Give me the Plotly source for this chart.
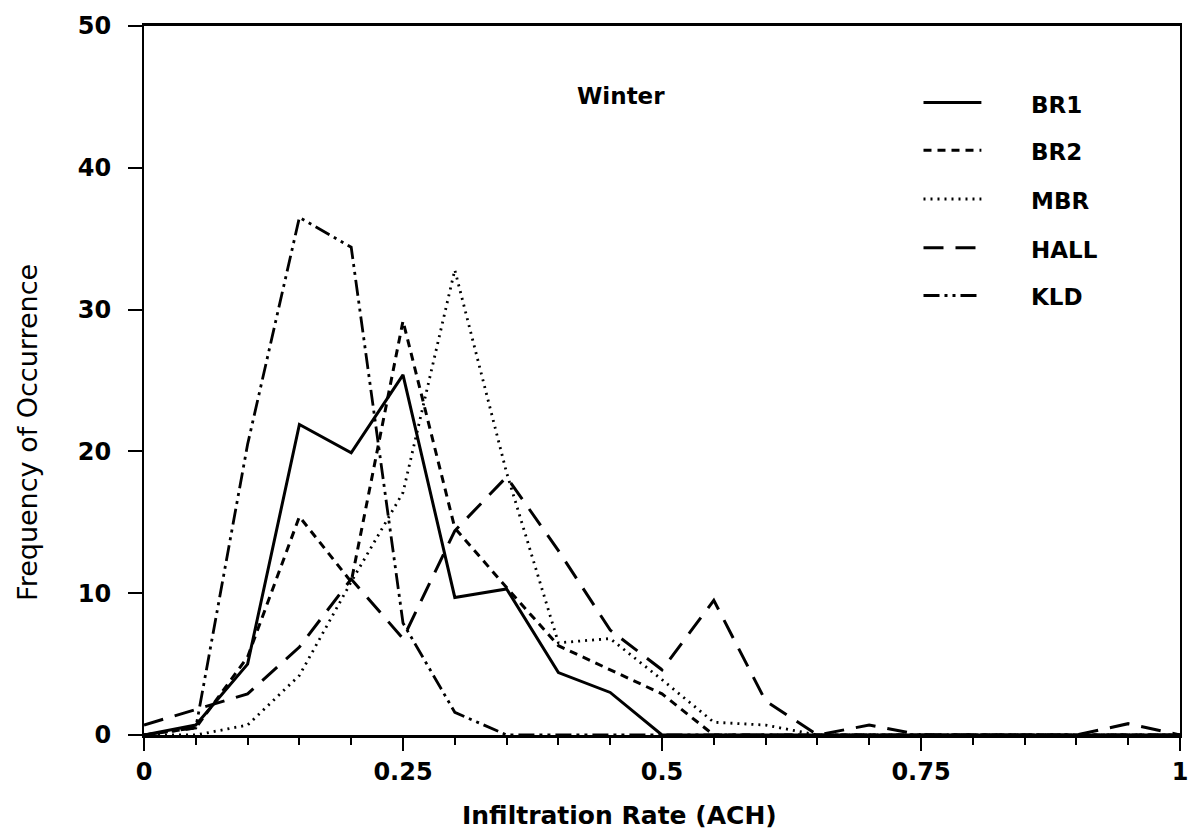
import plotly.graph_objects as go

# ---- data ----
rate = [0.0, 0.05, 0.10, 0.15, 0.20, 0.25, 0.30, 0.35, 0.40, 0.45, 0.50,
        0.55, 0.60, 0.65, 0.70, 0.75, 0.80, 0.85, 0.90, 0.95, 1.00]
br1 = [0, 0.7, 5.0, 21.9, 19.9, 25.4, 9.7, 10.3, 4.4, 3.0, 0,
       0, 0, 0, 0, 0, 0, 0, 0, 0, 0]
br2 = [0, 0.5, 5.5, 15.4, 10.8, 29.2, 14.6, 10.4, 6.3, 4.6, 2.9,
       0, 0, 0, 0, 0, 0, 0, 0, 0, 0]
mbr = [0, 0, 0.7, 4.2, 10.8, 17.1, 32.8, 18.5, 6.5, 6.8, 3.9,
       0.9, 0.7, 0, 0, 0, 0, 0, 0, 0, 0]
hall = [0.7, 1.8, 2.9, 6.2, 11.0, 6.8, 14.4, 18.2, 13.0, 7.4, 4.6,
        9.5, 2.4, 0, 0.7, 0, 0, 0, 0, 0.8, 0]
kld = [0, 0.5, 20.5, 36.5, 34.4, 7.9, 1.6, 0, 0, 0, 0,
       0, 0, 0, 0, 0, 0, 0, 0, 0, 0]

names = ["BR1", "BR2", "MBR", "HALL", "KLD"]
series = [br1, br2, mbr, hall, kld]
xtick_vals = [0, 0.25, 0.5, 0.75, 1]
xtick_text = ["0", "0.25", "0.5", "0.75", "1"]
ytick_vals = [0, 10, 20, 30, 40, 50]

# ---- styles ----
dashes = ["solid", "8px,6px", "2px,5px", "20px,12px", "16px,5px,3px,5px,3px,5px"]
widths = [3.0, 3.0, 2.8, 3.0, 2.8]
FONT = "DejaVu Sans"

# plot area in pixels
L, R, T, B = 144, 1182, 22, 735
def pxx(p):
    return (p - L) / (R - L)
def pxy(p):
    return (B - p) / (B - T)

fig = go.Figure()
for name, ys, d, w in zip(names, series, dashes, widths):
    fig.add_trace(go.Scatter(x=rate, y=ys, mode="lines", name=name,
                             line=dict(color="black", width=w, dash=d),
                             showlegend=False))

shapes = []
annotations = []
rows = [99, 147, 196, 245, 293]
for name, d, w, ry in zip(names, dashes, widths, rows):
    shapes.append(dict(type="line", xref="paper", yref="paper",
                       x0=pxx(925), x1=pxx(983), y0=pxy(ry), y1=pxy(ry),
                       line=dict(color="black", width=w, dash=d)))
    annotations.append(dict(xref="paper", yref="paper", x=pxx(1031), y=pxy(ry + 2),
                            text=name, showarrow=False, xanchor="left", yanchor="middle",
                            font=dict(family=FONT, size=23, color="black", weight="bold")))

annotations.append(dict(xref="paper", yref="paper", x=pxx(622), y=pxy(92),
                        text="Winter", showarrow=False, xanchor="center", yanchor="middle",
                        font=dict(family=FONT, size=23, color="black", weight="bold")))
annotations.append(dict(xref="paper", yref="paper", x=pxx(620), y=pxy(816),
                        text="Infiltration Rate (ACH)", showarrow=False,
                        xanchor="center", yanchor="middle",
                        font=dict(family=FONT, size=25, color="black", weight="bold")))
annotations.append(dict(xref="paper", yref="paper", x=pxx(27), y=pxy(431),
                        text="Frequency of Occurrence", showarrow=False, textangle=-90,
                        xanchor="center", yanchor="middle",
                        font=dict(family=FONT, size=27, color="black")))

fig.update_layout(
    width=1200, height=835,
    margin=dict(l=L, r=1200 - R, t=T, b=835 - B),
    paper_bgcolor="white", plot_bgcolor="white",
    shapes=shapes, annotations=annotations,
    xaxis=dict(range=[0, 1], tickvals=xtick_vals, ticktext=xtick_text,
               ticks="outside", ticklen=13, tickwidth=2, tickcolor="black",
               showline=True, linecolor="black", linewidth=2.5, mirror=True,
               showgrid=False, zeroline=False,
               tickfont=dict(family=FONT, size=24, color="black", weight="bold"),
               minor=dict(dtick=0.05, tick0=0, ticks="outside", ticklen=7,
                          tickwidth=2, tickcolor="black", showgrid=False)),
    yaxis=dict(range=[0, 50], tickvals=ytick_vals,
               ticks="outside", ticklen=14, tickwidth=2, tickcolor="black",
               showline=True, linecolor="black", linewidth=2, mirror=True,
               showgrid=False, zeroline=False, ticklabelstandoff=12,
               tickfont=dict(family=FONT, size=24, color="black", weight="bold")),
)

fig.write_html("out.html")
